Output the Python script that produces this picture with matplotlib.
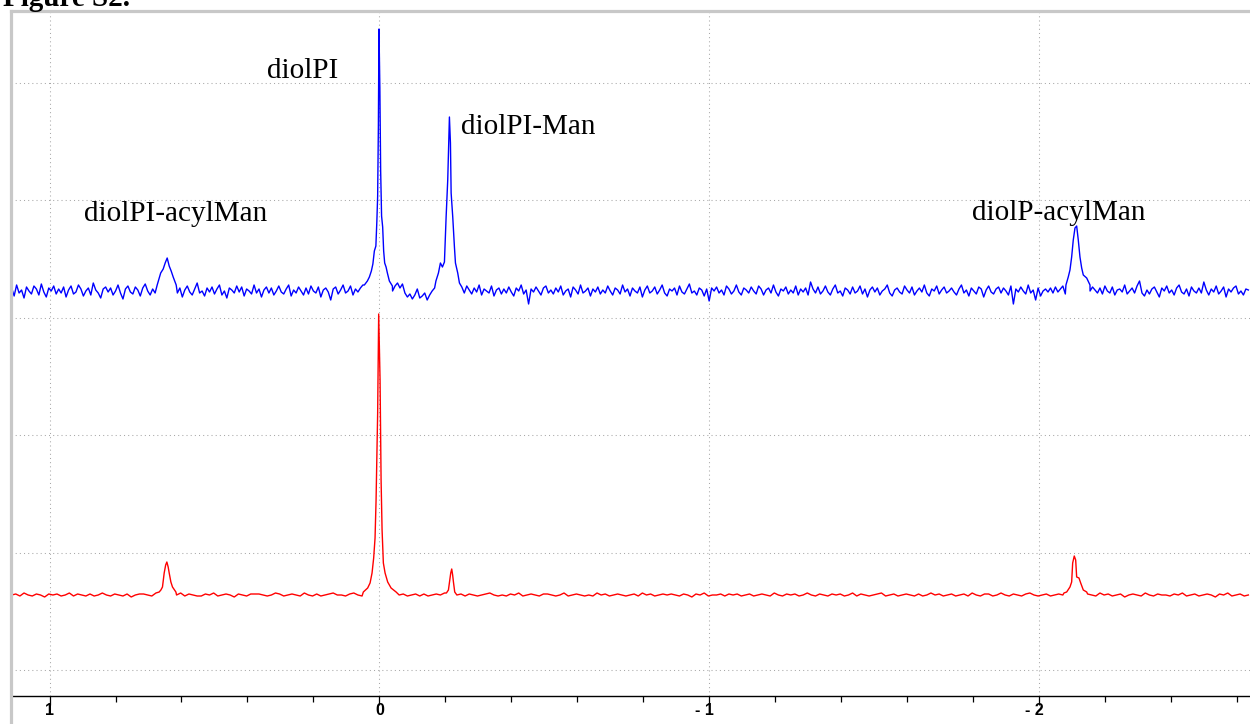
import numpy as np
import matplotlib
matplotlib.use("Agg")
import matplotlib.pyplot as plt
from matplotlib.lines import Line2D
from matplotlib.transforms import ScaledTranslation

# ---------------- data ----------------
# chemical shift axis (ppm), reversed
x_left, x_right = 1.117, -2.640
major_ticks = [1, 0, -1, -2]
major_labels = ["1", "0", "- 1", "- 2"]
minor_ticks = [0.8, 0.6, 0.4, 0.2, -0.2, -0.4, -0.6, -0.8,
               -1.2, -1.4, -1.6, -1.8, -2.2, -2.4, -2.6]
hgrid_levels = [26, 143.5, 261, 378.5, 496, 613.5]

# stacked spectra vertical offsets (intensity units)
blue_offset = 405
red_offset = 101

# baseline noise samples (read approximately), grid start and spacing in ppm
noise_start = 1.115
blue_step = 0.0075
blue_noise = [
    3, -5, 6, -2, 1, -7, 4, 0, -3, 5, 2, -4, 7, -1, -6, 3, 0, 5, -3, 2,
    -2, 4, -6, 1, 5, -3, -1, 6, 2, -5, 0, 3, -4, 8, 1, -2, -7, 2, 4, -1,
    3, -4, 0, 6, -2, -8, 2, 5, -1, -3, 4, 1, -5, 3, 7, 0, -4, 2, -2, 5,
    1, -3, 6, 2, -5, 0, 4, -2, 3, -6, 1, 5, -1, -4, 2, 8, -2, 0, -5, 3,
    -1, 4, -3, 2, 6, -4, 0, -7, 3, 1, -2, 5, -1, 4, -5, 2, 0, -3, 6, -2,
    2, -6, 1, 4, -2, 3, -4, 0, 5, -1, -3, 2, 6, -5, 1, -2, 4, 0, -4, 3,
    -3, 5, 0, -2, 4, -6, 1, 3, -1, -9, 2, 4, -3, 1, 6, -2, 0, 5, -4, 2,
    -1, 3, 6, 0, 0, 0, 0, 0, 0, 0, 0, 0, 0, 0, 0, 5, 8, 3, 7, -2,
    -6, -3, -8, -4, 2, -7, -5, -2, -9, -4, 0, 3, 0, 0, 0, 0, 0, 0, 0, 0,
    0, 0, 4, -2, 5, 1, -3, 3, -1, 6, -4, 2, 0, -2, 5, -5, 1, 3, -3, 2,
    -2, 4, -1, -5, 3, 0, 6, -3, 1, -13, 2, -1, 4, 0, -4, 3, 5, -2, 1, -3,
    3, -1, 5, -4, 0, 2, -6, 4, 1, -3, 6, -2, 0, 3, -5, 2, -1, 4, -3, 1,
    -2, 5, 0, -4, 3, 1, -3, 6, -1, 2, -5, 3, 0, -2, 4, -6, 1, 5, -2, 0,
    4, -3, 1, 6, -2, -5, 2, 0, 3, -4, 5, -1, -3, 2, 7, -2, 0, -4, 3, 1,
    -5, 2, -10, 3, 0, 4, -2, 1, -4, 5, 2, -3, 0, 6, -1, -4, 3, 1, -2, 4,
    0, -3, 5, 2, -4, 1, 3, -2, 6, -1, -5, 2, 0, 4, -3, 1, -2, 5, -4, 2,
    -1, 3, -4, 9, 2, -2, 4, -3, 0, 5, -1, -4, 2, 6, -2, 0, -5, 3, 1, -3,
    4, -2, 0, 5, -3, 2, -6, 1, 4, -1, 3, -4, 0, 2, 6, -2, -5, 1, 3, -1,
    -3, 5, 1, -2, 4, -4, 0, 3, -1, 6, -2, -5, 2, 0, 5, -3, 1, 4, -2, 0,
    3, -1, -4, 2, 6, -2, 1, -5, 3, 0, -3, 4, 2, -6, 1, 5, -1, -3, 2, 4,
    -2, 3, 0, -4, 5, -13, 2, -1, 4, 0, -3, 6, -2, 1, -9, 3, -5, 0, 2, -1,
    3, -2, 4, -1, 2, 5, -3, 0, 0, 0, 0, 0, 0, 0, 0, 0, 0, 4, 1, -2,
    3, -3, 5, 0, -2, 4, -4, 1, 2, -1, 6, -3, 0, 3, -2, 5, 10, -2, -5, 1,
    -3, 2, 4, -1, -6, 3, 0, 5, -2, 1, -4, 3, 6, -1, -3, 2, -5, 4, 0, -2,
    3, -2, 9, 1, -4, 2, -1, 5, -3, 0, 4, -6, 2, -1, 3, 5, -3, 0, -4, 2,
    1,
]
red_step = 0.0125
red_noise = [
    0, 1, -1, 2, 0, -1, 1, 0, -2, 1, 0, 1, -1, 0, 2, -1, 1, 0, -1, 1,
    -1, 0, 2, 0, -1, 1, 0, -1, 1, -2, 0, 1, 1, 0, -1, 2, 0, -1, 1, 0,
    0, 2, -1, 1, 0, -1, -1, 1, 0, 2, -1, 0, 1, 0, -2, 1, 0, -1, 1, 1,
    1, 0, -1, 0, 2, 1, -1, 0, 1, 0, -1, 2, 0, -1, 1, -1, 0, 1, 2, 0,
    0, -1, 1, 2, 0, -1, 0, 1, -1, 0, 1, 0, -2, 1, 0, 1, -1, 0, 1, -1,
    1, -1, 0, 1, 0, 2, -1, 0, 0, 1, -1, 1, 0, -1, 0, 1, 2, 0, -1, 0,
    -1, 1, 0, 2, -1, 0, 1, 0, -1, 1, 1, 0, -1, 0, 2, -1, 0, 1, 0, -1,
    0, -1, 2, 0, 1, -1, 0, 1, 0, -1, 0, 1, -1, 2, 0, 1, -1, 0, 1, 0,
    1, 0, -1, 1, 0, -2, 1, 0, 2, -1, 0, 0, 1, -1, 1, 0, 1, -1, 0, 1,
    -1, 0, 1, 0, -1, 2, 0, -1, 1, 0, 1, -1, 0, 2, 0, -1, 1, 0, -1, 1,
    0, 1, -1, 0, 2, -1, 1, 0, -1, 0, 1, 2, -1, 0, 1, -1, 0, 1, 0, -1,
    1, -1, 0, 2, 0, 1, -1, 0, 1, -1, 0, 1, -1, 2, 0, -1, 1, 1, -1, 0,
    2, 0, -1, 1, 0, -1, 1, 2, 0, -1, 0, 1, -1, 0, 1, 0, 2, -1, 0, 1,
    -1, 1, 0, -1, 2, 0, 1, -1, 0, 1, -2, 0, 1, 0, -1, 2, 0, -1, 1, 0,
    0, -1, 1, 0, 2, -1, 0, 1, -1, 0, 1, 0, -2, 1, 0, 2, -1, 0, 1, -1,
    0,
]

# peaks: (ppm positions, heights above baseline)
blue_peaks = [
    ([0.6737, 0.6631, 0.6555, 0.6495, 0.6434, 0.6373, 0.6313, 0.6252, 0.6161],
     [6, 18, 22, 28, 33, 25, 20, 14, 6]),
    ([0.0455, 0.0364, 0.0303, 0.0243, 0.0197, 0.0152, 0.0106, 0.0076, 0.0052,
      0.0030, 0.0012, -0.0015, -0.0039, -0.0067, -0.0100, -0.0130, -0.0161,
      -0.0203, -0.0243, -0.0303, -0.0395],
     [6, 10, 14, 20, 27, 40, 45, 70, 95, 165, 262, 203, 120, 75, 64, 40, 28,
      24, 18, 10, 5]),
    ([-0.1715, -0.1791, -0.1851, -0.1912, -0.1973, -0.2024, -0.2073, -0.2103,
      -0.2124, -0.2155, -0.2176, -0.2225, -0.2276, -0.2307, -0.2376, -0.2428],
     [10, 18, 28, 24, 29, 74, 111, 148, 174, 148, 98, 74, 44, 28, 18, 8]),
    ([-2.0819, -2.0889, -2.0941, -2.0992, -2.1041, -2.1093, -2.1144, -2.1193,
      -2.1244, -2.1296, -2.1345, -2.1448, -2.1548],
     [6, 14, 21, 34, 51, 63, 65, 51, 34, 23, 16, 13, 6]),
]
red_peaks = [
    ([0.6677, 0.6625, 0.6577, 0.6525, 0.6480, 0.6444, 0.6404, 0.6373, 0.6322,
      0.6273, 0.6170],
     [3, 5, 8, 22, 30, 33, 28, 22, 13, 8, 3]),
    ([0.0486, 0.0355, 0.0282, 0.0222, 0.0173, 0.0131, 0.0100, 0.0052, 0.0021,
      -0.0021, -0.0052, -0.0082, -0.0121, -0.0173, -0.0252, -0.0355, -0.0507],
     [3, 7, 12, 22, 37, 57, 95, 182, 281, 215, 115, 65, 32, 22, 13, 7, 3]),
    ([-0.2033, -0.2094, -0.2124, -0.2164, -0.2194, -0.2222, -0.2246, -0.2285],
     [2, 5, 12, 22, 26, 20, 13, 3]),
    ([-2.0759, -2.0841, -2.0941, -2.0992, -2.1023, -2.1071, -2.1114, -2.1144,
      -2.1214, -2.1266, -2.1345, -2.1448],
     [2, 3, 8, 13, 32, 39, 35, 18, 17, 12, 5, 3]),
]

# peak labels: text, left ppm, baseline intensity
label_texts = ["diolPI", "diolPI-Man", "diolPI-acylMan", "diolP-acylMan"]
label_ppm = [0.340, -0.249, 0.895, -1.797]
label_y = [618, 562, 475, 476]


def build_trace(start, step, noise, offset, peaks):
    ppm = start - step * np.arange(len(noise))
    y = offset + np.asarray(noise, float)
    keep = np.ones(len(ppm), bool)
    for pp, hh in peaks:
        lo, hi = min(pp), max(pp)
        keep &= ~((ppm >= lo) & (ppm <= hi))
    xs = [ppm[keep]]
    ys = [y[keep]]
    for pp, hh in peaks:
        xs.append(np.asarray(pp, float))
        ys.append(offset + np.asarray(hh, float))
    x = np.concatenate(xs)
    yy = np.concatenate(ys)
    order = np.argsort(-x)
    return x[order], yy[order]


# ---------------- figure ----------------
W, H = 1250, 724
fig = plt.figure(figsize=(W / 100, H / 100), dpi=100)
left_px, top_px, bottom_px = 11, 11, 696
ax = fig.add_axes([left_px / W, (H - bottom_px) / H,
                   (W - left_px) / W, (bottom_px - top_px) / H])
ax.set_xlim(x_left, x_right)
ax.set_ylim(0, bottom_px - top_px)

grid_kw = dict(color="#a8a8a8", lw=0.75, dashes=(1, 3), zorder=1)
for v in major_ticks:
    ax.axvline(v, **grid_kw)
for h in hgrid_levels:
    ax.axhline(h, **grid_kw)

bx, by = build_trace(noise_start, blue_step, blue_noise, blue_offset, blue_peaks)
rx, ry = build_trace(noise_start, red_step, red_noise, red_offset, red_peaks)
ax.plot(bx, by, color="#0000ff", lw=1.0, zorder=3)
ax.plot(rx, ry, color="#ff0000", lw=1.0, zorder=3)

for t, xp, yp in zip(label_texts, label_ppm, label_y):
    ax.text(xp, yp, t, ha="left", va="baseline", fontsize=21,
            family="Liberation Serif", color="black", zorder=4)

# axes styling
for s in ["left", "top", "right"]:
    ax.spines[s].set_visible(False)
ax.spines["bottom"].set_color("black")
ax.spines["bottom"].set_linewidth(1.0)
ax.set_yticks([])
ax.set_xticks(major_ticks)
ax.set_xticks(minor_ticks, minor=True)
ax.set_xticklabels(major_labels)
ax.tick_params(axis="x", which="major", direction="out", length=6.5,
               width=0.9, color="black", pad=-1.5, labelsize=11.5)
ax.tick_params(axis="x", which="minor", direction="out", length=4.3,
               width=0.9, color="black")
for lab in ax.get_xticklabels():
    lab.set_fontfamily("Liberation Sans")
    lab.set_fontweight("bold")
    if lab.get_text().startswith("-"):
        lab.set_transform(lab.get_transform() +
                          ScaledTranslation(-4.9 / 100, 0, fig.dpi_scale_trans))

# light gray frame around the plot region
frame_c = "#c8c8c8"
fig.add_artist(Line2D([left_px / W, left_px / W], [0, (H - top_px) / H],
                      transform=fig.transFigure, color=frame_c, lw=2.3))
fig.add_artist(Line2D([left_px / W, 1], [(H - top_px) / H, (H - top_px) / H],
                      transform=fig.transFigure, color=frame_c, lw=2.3))

fig.text(3 / W, (H - 6) / H, "Figure S2.", ha="left", va="baseline",
         fontsize=21, family="Liberation Serif", fontweight="bold")

fig.savefig("out.png", dpi=100)
